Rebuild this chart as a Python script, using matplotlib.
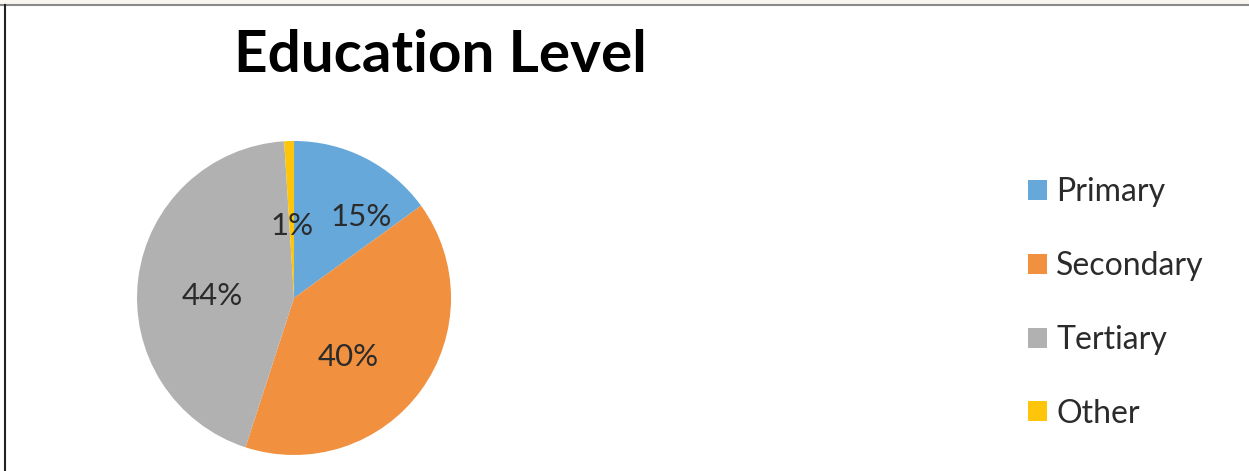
import matplotlib
matplotlib.use("Agg")
import matplotlib.pyplot as plt
import numpy as np
from matplotlib.patches import Rectangle

categories = ["Primary", "Secondary", "Tertiary", "Other"]
values = [15, 40, 44, 1]
pct_labels = ["15%", "40%", "44%", "1%"]
colors = ["#67A8DB", "#F1903F", "#B1B1B1", "#FFC50A"]

# label placement styles (fraction of radius, angular tweak in degrees)
label_dist = [0.67, 0.51, 0.52, 0.46]
label_tweak = [13, 11, -5.6, 0]

plt.rcParams['font.family'] = ['Lato', 'DejaVu Sans']

fig = plt.figure(figsize=(12.49, 4.71), dpi=100)
fig.patch.set_facecolor("white")

# frame decorations
fig.add_artist(Rectangle((0, 1 - 4/471), 1, 4/471, transform=fig.transFigure,
                         facecolor="#F7F5F0", edgecolor="none"))
fig.add_artist(plt.Line2D([0, 1], [1 - 5/471, 1 - 5/471], transform=fig.transFigure,
                          color="#8A8A8A", lw=1.5))
fig.add_artist(plt.Line2D([4.5/1249, 4.5/1249], [0, 1 - 5/471], transform=fig.transFigure,
                          color="#222222", lw=1.5))

ax = fig.add_axes([0.1097, 0.034, 0.2514, 0.6667])
wedges, _ = ax.pie(values, colors=colors, startangle=90, counterclock=False,
                   wedgeprops=dict(linewidth=0))
ax.set_aspect("equal")
ax.set_xlim(-1, 1)
ax.set_ylim(-1, 1)
ax.axis("off")

total = sum(values)
cum = 0
for v, lab, d, tw in zip(values, pct_labels, label_dist, label_tweak):
    mid = (cum + v / 2) / total * 360 + tw  # clockwise from top
    cum += v
    th = np.deg2rad(mid)
    ax.text(d * np.sin(th), d * np.cos(th), lab, ha="center", va="center",
            fontsize=22.5, color="#2B2B2B")

fig.text(440/1249, 1 - 55/471, "Education Level", ha="center", va="center",
         fontsize=42, fontweight="bold", color="#000000")

handles = [Rectangle((0, 0), 1, 1, facecolor=c, edgecolor="none") for c in colors]
leg = fig.legend(handles, categories, loc="center left",
                 bbox_to_anchor=(999/1249, 1 - 303/471), frameon=False,
                 fontsize=23, labelcolor="#2B2B2B", handlelength=0.59, handleheight=0.59,
                 handletextpad=0.3, labelspacing=1.37)

fig.savefig("out.png", dpi=100, facecolor="white")
